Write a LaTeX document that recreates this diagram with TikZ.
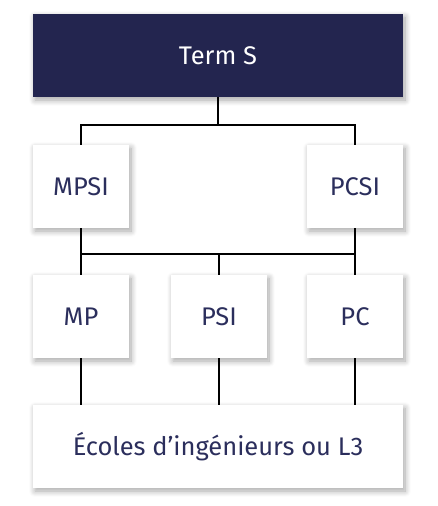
\documentclass[tikz,border=0pt]{standalone}
\usepackage{fontspec}
\setmainfont{Fira Sans}
\usetikzlibrary{shadows.blur}
\definecolor{navy}{HTML}{23254F}
\definecolor{navytext}{HTML}{2B2E5C}
\tikzset{
  box/.style={rectangle, fill=white, text=navytext, minimum height=83pt,
    minimum width=96pt, inner sep=0pt, font=\fontsize{25.5}{30}\selectfont,
    blur shadow={shadow xshift=2pt, shadow yshift=-3pt, shadow blur radius=6pt,
      shadow blur steps=8, shadow opacity=35}},
  widebox/.style={box, minimum width=370pt},
  headbox/.style={widebox, fill=navy, text=white},
  link/.style={draw=black, line width=1.3pt}
}
\begin{document}
\begin{tikzpicture}[x=1pt,y=-1pt]
    \useasboundingbox (0,0) rectangle (437,506);

    % Terminale
    \node[headbox] (term) at (218,55.5) {Term S};

    % Prépas
    \node[box] (mpsi) at (81,186.5) {MPSI};
    \node[box] (pcsi) at (355,186.5) {PCSI};

    % Filières de deuxième année
    \node[box] (mp) at (81,316.5) {MP};
    \node[box] (psi) at (219,316.5) {PSI};
    \node[box] (pc) at (355,316.5) {PC};

    % Débouchés
    \node[widebox] (ecoles) at (218,446.5) {Écoles d’ingénieurs ou L3};

    % Liaisons
    \coordinate (fork) at (218,125);
    \coordinate (bus) at (219,254);
    \draw[link] (term.south) -- (fork);
    \draw[link] (mpsi.north) |- (fork) -| (pcsi.north);
    \draw[link] (mpsi.south) |- (bus) -| (pcsi.south);
    \draw[link] (bus) -- (psi.north);
    \draw[link] (mpsi.south) -- (mp.north);
    \draw[link] (pcsi.south) -- (pc.north);
    \foreach \from in {mp,psi,pc}
        \draw[link] (\from.south) -- (\from.south |- ecoles.north);
\end{tikzpicture}
\end{document}
